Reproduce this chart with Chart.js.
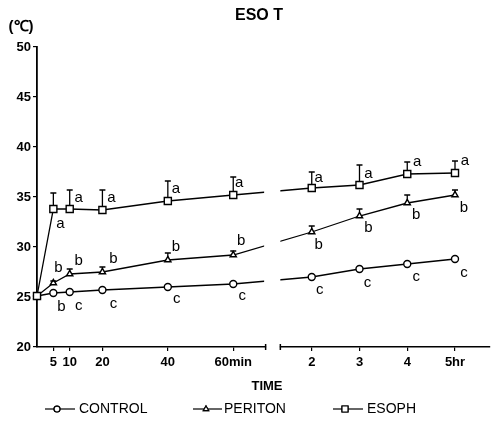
<!DOCTYPE html>
<html>
<head>
<meta charset="utf-8">
<script src="https://cdn.jsdelivr.net/npm/chart.js@4/dist/chart.umd.min.js"></script>
<style>
html,body{margin:0;padding:0;background:#fff;}
#wrap{width:491px;height:427px;position:relative;}
canvas{display:block;}
</style>
</head>
<body>
<div id="wrap"><canvas id="c" width="491" height="427"></canvas></div>
<script>
// ---------- DATA ----------
const minuteTimes = [0, 5, 10, 20, 40, 60];
const hourTimes = [2, 3, 4, 5];
const minuteTickValues = [5, 10, 20, 40, 60];
const hourTickValues = [2, 3, 4, 5];
const tickLabels = ['5', '10', '20', '40', '60min', '2', '3', '4', '5hr'];
const seriesNames = ['CONTROL', 'PERITON', 'ESOPH'];

const control = [25.1, 25.4, 25.5, 25.7, 26.0, 26.3, 27.0, 27.8, 28.3, 28.8];
const periton = [25.1, 26.4, 27.3, 27.5, 28.7, 29.2, 31.5, 33.1, 34.4, 35.2];
const esoph   = [25.1, 33.8, 33.8, 33.7, 34.6, 35.2, 35.9, 36.2, 37.3, 37.4];

const controlErr = [0, 0, 0, 0, 0, 0, 0, 0, 0, 0];
const peritonErr = [0, 0.2, 0.5, 0.5, 0.7, 0.4, 0.6, 0.7, 0.8, 0.5];
const esophErr   = [0, 1.6, 1.9, 2.0, 2.0, 1.8, 1.6, 2.0, 1.2, 1.2];

const controlLetters = ['', 'b', 'c', 'c', 'c', 'c', 'c', 'c', 'c', 'c'];
const peritonLetters = ['', 'b', 'b', 'b', 'b', 'b', 'b', 'b', 'b', 'b'];
const esophLetters   = ['', 'a', 'a', 'a', 'a', 'a', 'a', 'a', 'a', 'a'];

// ---------- LAYOUT (axis mapping & label placement) ----------
const HR_ORIGIN = 54.8, HR_SCALE = 14.6;   // hours -> axis units
const X_MAX = 138.5;
const BREAK_A = 69.9, BREAK_B = 74.4;       // axis break (axis units)
function minPos(m){ return m; }
function hrPos(h){ return HR_ORIGIN + h * HR_SCALE; }
const allPos = minuteTimes.map(minPos).concat(hourTimes.map(hrPos));
const tickPos = minuteTickValues.map(minPos).concat(hourTickValues.map(hrPos));

// letter placement: [anchor, dx, dy]; anchor 'e' = top of error bar, 'p' = point
const controlPlace = [null,['p',8,14],['p',9,14],['p',11,14],['p',9,12],['p',9,12],['p',8,13],['p',8,14],['p',9,13],['p',9,14]];
const peritonPlace = [null,['p',5,-15],['e',9,-8],['e',11,-8],['e',8,-6],['e',8,-10],['p',7,13],['p',9,12],['p',9,12],['p',9,13]];
const esophPlace   = [null,['p',7,15],['e',9,8],['e',9,8],['e',8,8],['e',6,6],['e',7,6],['e',9,9],['e',10,0],['e',10,0]];

const FONT = 'Arial, "Liberation Sans", sans-serif';
const styles = [
  {pointStyle:'circle', radius:3.5},
  {pointStyle:'triangle', radius:3.6},
  {pointStyle:'rect', radius:5}
];
const values = [control, periton, esoph];
const errs = [controlErr, peritonErr, esophErr];
const letters = [controlLetters, peritonLetters, esophLetters];
const places = [controlPlace, peritonPlace, esophPlace];

const datasets = [2,1,0].map(i => ({
  label: seriesNames[i],
  data: values[i].map((v, k) => ({x: allPos[k], y: v})),
  borderColor: '#000',
  borderWidth: 1.3,
  pointStyle: styles[i].pointStyle,
  pointRadius: styles[i].radius,
  pointBackgroundColor: '#fff',
  pointBorderColor: '#000',
  pointBorderWidth: 1.4,
  tension: 0,
  clip: false,
  fill: false
}));

const decor = {
  id: 'decor',
  afterDatasetsDraw(chart) {
    const ctx = chart.ctx, xs = chart.scales.x, ys = chart.scales.y, ca = chart.chartArea;
    const xa = xs.getPixelForValue(BREAK_A), xb = xs.getPixelForValue(BREAK_B);
    ctx.save();
    // axis break gap
    ctx.fillStyle = '#fff';
    ctx.fillRect(xa - 1.5, ca.top - 10, (xb - xa) + 1.5, ca.bottom - ca.top + 9);
    ctx.fillRect(xa + 0.5, ca.bottom - 2, (xb - xa) - 1, 10);
    ctx.strokeStyle = '#000'; ctx.lineWidth = 1.5;
    ctx.beginPath();
    ctx.moveTo(xa, ca.bottom - 3); ctx.lineTo(xa, ca.bottom + 3);
    ctx.moveTo(xb, ca.bottom - 3); ctx.lineTo(xb, ca.bottom + 3);
    ctx.stroke();

    // error bars + letters
    ctx.lineWidth = 1.3;
    for (let s = 0; s < 3; s++) {
      for (let k = 0; k < values[s].length; k++) {
        const px = xs.getPixelForValue(allPos[k]);
        const py = ys.getPixelForValue(values[s][k]);
        const e = errs[s][k];
        let ey = py;
        if (e > 0) {
          ey = ys.getPixelForValue(values[s][k] + e);
          ctx.beginPath();
          ctx.moveTo(px, py - 3); ctx.lineTo(px, ey);
          ctx.moveTo(px - 3, ey); ctx.lineTo(px + 3, ey);
          ctx.stroke();
        }
        const pl = places[s][k];
        if (pl && letters[s][k]) {
          const ay = pl[0] === 'e' ? ey : py;
          ctx.fillStyle = '#000';
          ctx.font = '15px ' + FONT;
          ctx.textAlign = 'center'; ctx.textBaseline = 'middle';
          ctx.fillText(letters[s][k], px + pl[1], ay + pl[2]);
        }
      }
    }

    // title, unit, axis title
    ctx.fillStyle = '#000';
    ctx.textAlign = 'center'; ctx.textBaseline = 'middle';
    ctx.font = 'bold 16px ' + FONT;
    ctx.fillText('ESO T', 259, 16);
    ctx.font = 'bold 15px ' + FONT;
    ctx.fillText('(℃)', 21, 27);
    ctx.font = 'bold 13px ' + FONT;
    ctx.fillText('TIME', 267, 386);

    // legend
    const legendX = [[45, 75, 57, 79], [193, 222, 206, 224], [333, 363, 345, 367]];
    const ly = 409;
    for (let s = 0; s < 3; s++) {
      const [x0, x1, mx, tx] = legendX[s];
      ctx.strokeStyle = '#000'; ctx.lineWidth = 1.2;
      ctx.beginPath(); ctx.moveTo(x0, ly); ctx.lineTo(x1, ly); ctx.stroke();
      Chart.helpers.drawPoint(ctx, {pointStyle: styles[s].pointStyle, radius: styles[s].radius * 0.85, rotation: 0, borderWidth: 1.2}, mx, ly);
      ctx.fillStyle = '#fff'; ctx.fill(); ctx.stroke();
      ctx.fillStyle = '#000';
      ctx.font = '14px ' + FONT;
      ctx.textAlign = 'left'; ctx.textBaseline = 'middle';
      ctx.fillText(seriesNames[s], tx, ly);
    }
    ctx.restore();
  }
};

new Chart(document.getElementById('c'), {
  type: 'line',
  data: { datasets },
  options: {
    responsive: false,
    animation: false,
    devicePixelRatio: 1,
    layout: { autoPadding: false, padding: { top: 47, left: 0, right: 1, bottom: 0 } },
    plugins: { legend: { display: false }, title: { display: false }, tooltip: { enabled: false } },
    scales: {
      x: {
        type: 'linear', min: 0, max: X_MAX,
        afterBuildTicks: (sc) => { sc.ticks = tickPos.map(v => ({value: v})); },
        afterFit: (sc) => { sc.height = 80; sc.paddingLeft = 0; sc.paddingRight = 0; },
        ticks: {
          autoSkip: false, maxRotation: 0, padding: 4, color: '#000',
          font: { family: FONT, size: 13, weight: 'bold' },
          callback: (v, i) => tickLabels[i]
        },
        grid: { drawOnChartArea: false, tickLength: 4, color: '#000', lineWidth: 1.2 },
        border: { color: '#000', width: 1.5 }
      },
      y: {
        min: 20, max: 50,
        afterFit: (sc) => { sc.width = 37; sc.paddingTop = 0; sc.paddingBottom = 0; },
        ticks: { stepSize: 5, padding: 2, color: '#000', font: { family: FONT, size: 13, weight: 'bold' } },
        grid: { drawOnChartArea: false, tickLength: 4, color: '#000', lineWidth: 1.2 },
        border: { color: '#000', width: 1.8 }
      }
    }
  },
  plugins: [decor]
});
</script>
</body>
</html>
